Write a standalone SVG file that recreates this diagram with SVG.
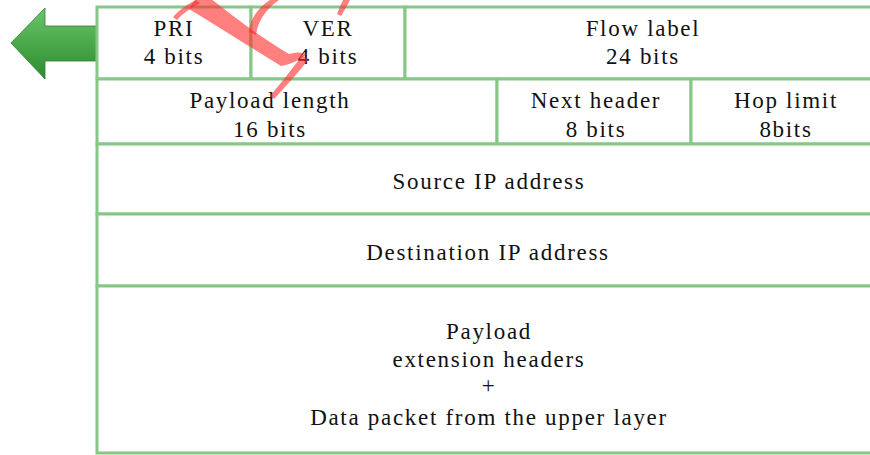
<svg xmlns="http://www.w3.org/2000/svg" width="870" height="455" viewBox="0 0 870 455">
<defs>
<linearGradient id="ag" x1="0" y1="0" x2="0" y2="1">
<stop offset="0" stop-color="#6cc46c"/>
<stop offset="0.5" stop-color="#4aa84a"/>
<stop offset="1" stop-color="#2f8a34"/>
</linearGradient>
</defs>
<style>
.c{fill:#fff;stroke:#86c786;stroke-width:3}
.t{font-family:"Liberation Serif","Times New Roman",serif;font-size:23px;fill:#111;text-anchor:middle;letter-spacing:1.7px}
.wm{fill:#ff2a2a;fill-opacity:0.6;stroke:none}
</style>
<rect width="870" height="455" fill="#fff"/>
<g id="arrow">
<path d="M11,43 L45,8 L45,26 L97,26 L97,61 L45,61 L45,79 Z" fill="url(#ag)" stroke="#2f7d32" stroke-width="0.8"/>
</g>
<g id="pri"><rect class="c" x="97" y="7" width="154" height="72"/><text class="t" x="174" y="36">PRI</text><text class="t" x="174" y="64">4 bits</text></g>
<g id="ver"><rect class="c" x="251" y="7" width="154" height="72"/><text class="t" x="328" y="36">VER</text><text class="t" x="328" y="64">4 bits</text></g>
<g id="flow"><rect class="c" x="405" y="7" width="470" height="72"/><text class="t" x="643" y="36">Flow label</text><text class="t" x="643" y="64">24 bits</text></g>
<g id="plen"><rect class="c" x="97" y="79" width="400" height="65"/><text class="t" x="270" y="108">Payload length</text><text class="t" x="270" y="137">16 bits</text></g>
<g id="nexthdr"><rect class="c" x="497" y="79" width="194" height="65"/><text class="t" x="596" y="108">Next header</text><text class="t" x="596" y="137">8 bits</text></g>
<g id="hop"><rect class="c" x="691" y="79" width="184" height="65"/><text class="t" x="786" y="108">Hop limit</text><text class="t" x="786" y="137">8bits</text></g>
<g id="src"><rect class="c" x="97" y="144" width="778" height="70"/><text class="t" x="489" y="189">Source IP address</text></g>
<g id="dst"><rect class="c" x="97" y="214" width="778" height="72"/><text class="t" x="488" y="260">Destination IP address</text></g>
<g id="payload"><rect class="c" x="97" y="286" width="778" height="167"/>
<text class="t" x="489" y="339">Payload</text>
<text class="t" x="489" y="367">extension headers</text>
<text class="t" x="489" y="393">+</text>
<text class="t" x="489" y="425">Data packet from the upper layer</text>
</g>
<g id="connectors"></g>
<g id="watermark">
<path class="wm" d="M197,-2 L210,-2 C235,18 262,38 289,54 C295,52 301,52 307,54 C300,60 291,64 281,66 C252,48 220,28 189,9 C191,5 194,1 197,-2 Z"/>
<path class="wm" d="M173,17 C180,9 188,4 196,0 L200,3 C191,8 183,13 177,20 Z"/>
<path class="wm" d="M249,32 C250,18 259,7 270,0 L279,0 C267,8 258,20 256,35 Z"/>
<path class="wm" d="M302,56 L309,59 C297,74 285,87 274,99 L270,96 C281,83 291,70 302,56 Z"/>
<path class="wm" d="M343,0 L350,0 C347,6 344,11 341,16 L337,14 C339,9 341,4 343,0 Z"/>
</g>
</svg>
